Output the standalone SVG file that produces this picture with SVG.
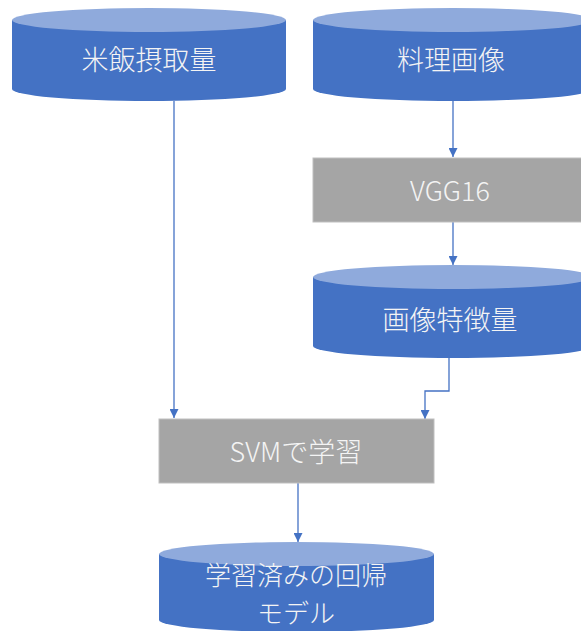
<svg xmlns="http://www.w3.org/2000/svg" width="581" height="631" viewBox="0 0 581 631">
  <style>
    .body { fill: #4472C4; }
    .lid { fill: #8FAADC; }
    .proc { fill: #A5A5A5; stroke: #BFBFBF; stroke-width: 1; }
    .label { fill: #F4F4F4; font-family: "Noto Sans CJK JP", "Noto Sans", sans-serif; font-size: 27px; font-weight: 300; text-anchor: middle; dominant-baseline: central; }
    .small { font-size: 26px; }
    .conn { fill: none; stroke: #4472C4; stroke-width: 1.3; marker-end: url(#arrow); }
  </style>
  <defs>
    <marker id="arrow" viewBox="0 0 10 10" refX="10" refY="5" markerWidth="9" markerHeight="9" markerUnits="userSpaceOnUse" orient="auto">
      <path d="M0,0 L10,5 L0,10 Z" fill="#4472C4"/>
    </marker>
  </defs>

  <!-- connectors -->
  <g id="connectors">
    <path class="conn" d="M174,101 V418"/>
    <path class="conn" d="M453,101 V157"/>
    <path class="conn" d="M453,222 V265"/>
    <path class="conn" d="M449,358 V391 H425 V419"/>
    <path class="conn" d="M298,483 V542"/>
  </g>

  <!-- rice intake store -->
  <g id="rice-intake">
    <path class="body" d="M12,20 V89 A137,12 0 0 0 286,89 V20 Z"/>
    <ellipse class="lid" cx="149" cy="20" rx="137" ry="12"/>
    <text class="label" x="149" y="58">米飯摂取量</text>
  </g>

  <!-- dish image store -->
  <g id="dish-image">
    <path class="body" d="M313,20 V89 A140,12 0 0 0 593,89 V20 Z"/>
    <ellipse class="lid" cx="453" cy="20" rx="140" ry="12"/>
    <text class="label" x="451" y="58">料理画像</text>
  </g>

  <!-- VGG16 process -->
  <g id="vgg16">
    <rect class="proc" x="313" y="158" width="280" height="64"/>
    <text class="label" x="450" y="189">VGG16</text>
  </g>

  <!-- image feature store -->
  <g id="image-features">
    <path class="body" d="M313,277 V346 A140,12 0 0 0 593,346 V277 Z"/>
    <ellipse class="lid" cx="453" cy="277" rx="140" ry="12"/>
    <text class="label" x="450" y="318">画像特徴量</text>
  </g>

  <!-- SVM training process -->
  <g id="svm-train">
    <rect class="proc" x="159" y="419" width="275" height="64"/>
    <text class="label" x="296" y="450">SVMで学習</text>
  </g>

  <!-- trained regression model store -->
  <g id="trained-model">
    <path class="body" d="M159,554 V620 A137.5,12 0 0 0 434,620 V554 Z"/>
    <ellipse class="lid" cx="296.5" cy="554" rx="137.5" ry="12"/>
    <text class="label small" x="296" y="573">学習済みの回帰</text>
    <text class="label small" x="296" y="611">モデル</text>
  </g>
</svg>
